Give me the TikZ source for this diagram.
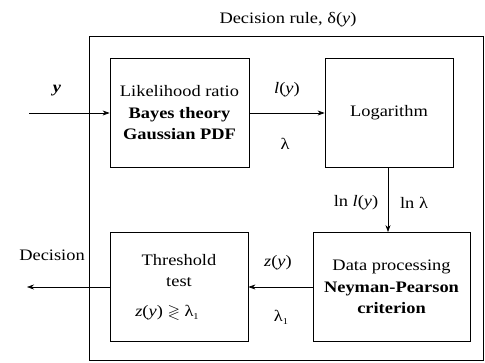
\documentclass[tikz,border=0pt]{standalone}
\usepackage{amssymb}
\usepackage{fontspec}
\setmainfont[FakeStretch=1.15]{Liberation Serif}
\usetikzlibrary{arrows.meta}
\newcommand{\lamsub}{λ\raisebox{-0.4ex}{\fontsize{9}{9}\selectfont 1}}
\begin{document}
\begin{tikzpicture}[x=1pt,y=1pt,
  font=\fontsize{16}{21.5}\selectfont,
  blk/.style={draw, line width=0.8pt, minimum height=109pt, align=center, inner sep=0pt},
  arr/.style={-{Stealth[length=7pt,width=5pt]}, line width=0.6pt},
  lbl/.style={inner sep=0pt}]
\useasboundingbox (0,0) rectangle (485,362);
\node[draw, line width=1pt, minimum width=394pt, minimum height=323pt, inner sep=0pt] (frame) at (286,163.5) {};
\node[lbl] (title) at (288,342) {Decision rule, δ(\textit{y})};

\node[blk, minimum width=139pt] (lr) at (179.5,249) {Likelihood ratio\\\textbf{Bayes theory}\\\textbf{Gaussian PDF}};
\node[blk, minimum width=128pt] (log) at (389,249) {Logarithm};
\node[blk, minimum width=157pt] (dp) at (391.5,75) {Data processing\\\textbf{Neyman-Pearson}\\\textbf{criterion}};
\node[blk, minimum width=138pt] (tt) at (179,75) {Threshold\\test\\[8pt]\textit{z}(\textit{y}) $\gtrless$ \lamsub\hspace*{24pt}};

\coordinate (in) at (29,249);
\coordinate (out) at (27,75);
\draw[arr] (in) -- (lr.west);
\draw[arr] (lr.east) -- (log.west);
\draw[arr] (log.south -| 388,0) -- (388,0 |- dp.north);
\draw[arr] (dp.west) -- (tt.east);
\draw[arr] (tt.west) -- (out);

\node[lbl] (ylab) at (57,271) {\textbf{\textit{y}}};
\node[lbl] (lylab) at (287,272) {\textit{l}(\textit{y})};
\node[lbl] (lamlab) at (285,218) {λ};
\node[lbl] (lnl) at (356,159) {ln \textit{l}(\textit{y})};
\node[lbl] (lnlam) at (414,159) {ln λ};
\node[lbl] (zlab) at (278,99) {\textit{z}(\textit{y})};
\node[lbl] (lam1) at (281,45) {\lamsub};
\node[lbl] (dec) at (52,107) {Decision};
\end{tikzpicture}
\end{document}
